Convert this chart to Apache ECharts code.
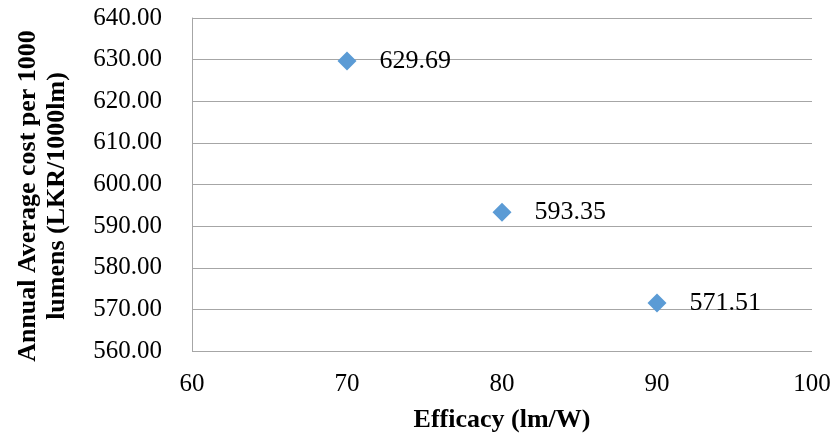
<!DOCTYPE html>
<html><head><meta charset="utf-8">
<script src="https://cdn.jsdelivr.net/npm/echarts@6/dist/echarts.min.js"></script>
<style>html,body{margin:0;padding:0;background:#fff}#c{width:837px;height:439px}</style>
</head><body><div id="c"></div>
<script>
const efficacy = [70, 80, 90];
const cost = [629.69, 593.35, 571.51];
const xTitle = 'Efficacy (lm/W)';
const yTitle = 'Annual Average cost per 1000\nlumens (LKR/1000lm)';
const font = '"Liberation Serif", "Times New Roman", serif';
const chart = echarts.init(document.getElementById('c'));
chart.setOption({
  animation: false,
  grid: {left: 192, right: 25, top: 18, bottom: 88},
  graphic: [{
    type: 'text', x: 43, y: 196, rotation: Math.PI / 2,
    style: {text: yTitle, fontFamily: font, fontSize: 26, fontWeight: 'bold', fill: '#000',
      align: 'center', verticalAlign: 'middle', lineHeight: 29}
  }],
  xAxis: {
    type: 'value', min: 60, max: 100, interval: 10,
    name: xTitle, nameLocation: 'middle', nameGap: 56,
    nameTextStyle: {fontFamily: font, fontSize: 26, fontWeight: 'bold', color: '#000'},
    axisLine: {show: false}, axisTick: {show: false},
    splitLine: {show: false},
    axisLabel: {fontFamily: font, fontSize: 25, color: '#000', margin: 21}
  },
  yAxis: {
    type: 'value', min: 560, max: 640, interval: 10,
    axisLine: {show: true, lineStyle: {color: '#a6a6a6', width: 1}}, axisTick: {show: false},
    splitLine: {show: true, lineStyle: {color: '#a6a6a6', width: 1}},
    axisLabel: {fontFamily: font, fontSize: 25, color: '#000', margin: 30, formatter: v => v.toFixed(2)}
  },
  series: [{
    type: 'scatter',
    data: efficacy.map((x, i) => [x, cost[i]]),
    symbol: 'diamond', symbolSize: 19,
    itemStyle: {color: '#5b9bd5', opacity: 1},
    label: {show: true, position: 'right', distance: 23, fontFamily: font, fontSize: 26, color: '#000',
      formatter: p => p.value[1].toFixed(2)}
  }]
});
</script></body></html>
